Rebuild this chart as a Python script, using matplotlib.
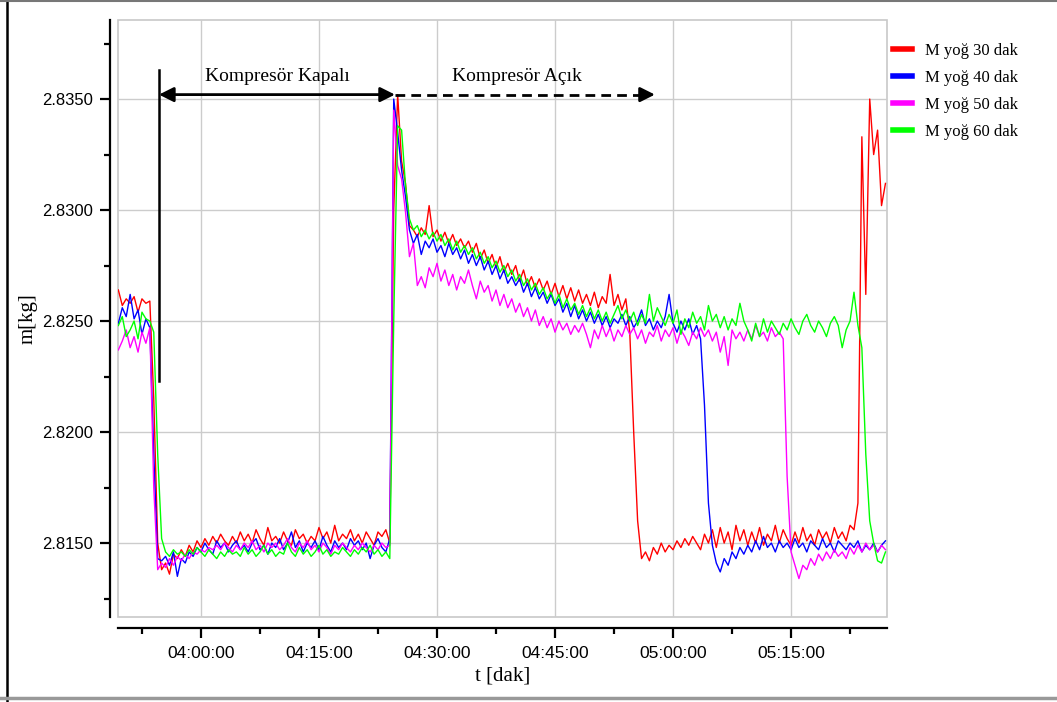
import numpy as np
import matplotlib
matplotlib.use('Agg')
import matplotlib.pyplot as plt
from matplotlib.ticker import MultipleLocator, FuncFormatter
from matplotlib.patches import Rectangle
from matplotlib.lines import Line2D

# time axis: minutes since midnight, one sample every 30 s (03:49:30 .. 05:27:00)
t = np.arange(229.5, 327.01, 0.5)

labels = ['M yoğ 30 dak', 'M yoğ 40 dak', 'M yoğ 50 dak', 'M yoğ 60 dak']
colors = ['#ff0000', '#0000ff', '#ff00ff', '#00ff00']

m_30 = [
    2.8264, 2.8257, 2.8260, 2.8258, 2.8261, 2.8254, 2.8260, 2.8258, 2.8259, 2.8215,
    2.8150, 2.8138, 2.8141, 2.8136, 2.8145, 2.8143, 2.8147, 2.8144, 2.8149, 2.8146,
    2.8151, 2.8148, 2.8152, 2.8149, 2.8153, 2.8150, 2.8154, 2.8151, 2.8149, 2.8153,
    2.8150, 2.8155, 2.8151, 2.8154, 2.8150, 2.8156, 2.8152, 2.8149, 2.8157, 2.8151,
    2.8153, 2.8150, 2.8155, 2.8151, 2.8149, 2.8156, 2.8152, 2.8154, 2.8150, 2.8153,
    2.8151, 2.8157, 2.8152, 2.8155, 2.8150, 2.8158, 2.8151, 2.8154, 2.8152, 2.8156,
    2.8151, 2.8154, 2.8150, 2.8155, 2.8152, 2.8149, 2.8155, 2.8153, 2.8156, 2.8150,
    2.8300, 2.8352, 2.8322, 2.8312, 2.8293, 2.8291, 2.8288, 2.8292, 2.8289, 2.8302,
    2.8288, 2.8291, 2.8286, 2.8290, 2.8285, 2.8289, 2.8284, 2.8287, 2.8283, 2.8286,
    2.8281, 2.8285, 2.8278, 2.8282, 2.8276, 2.8280, 2.8274, 2.8279, 2.8272, 2.8276,
    2.8271, 2.8275, 2.8268, 2.8273, 2.8266, 2.8270, 2.8265, 2.8269, 2.8264, 2.8268,
    2.8262, 2.8267, 2.8261, 2.8266, 2.8260, 2.8265, 2.8259, 2.8264, 2.8258, 2.8262,
    2.8257, 2.8263, 2.8256, 2.8261, 2.8258, 2.8271, 2.8257, 2.8262, 2.8255, 2.8260,
    2.8245, 2.8200, 2.8160, 2.8143, 2.8146, 2.8142, 2.8148, 2.8145, 2.8150, 2.8146,
    2.8149, 2.8147, 2.8151, 2.8148, 2.8152, 2.8149, 2.8153, 2.8150, 2.8147, 2.8154,
    2.8150, 2.8156, 2.8148, 2.8157, 2.8150, 2.8155, 2.8147, 2.8158, 2.8151, 2.8156,
    2.8149, 2.8155, 2.8150, 2.8157, 2.8149, 2.8154, 2.8151, 2.8158, 2.8150, 2.8156,
    2.8152, 2.8149, 2.8155, 2.8150, 2.8157, 2.8151, 2.8154, 2.8149, 2.8156, 2.8152,
    2.8155, 2.8150, 2.8157, 2.8152, 2.8155, 2.8151, 2.8158, 2.8156, 2.8168, 2.8333,
    2.8262, 2.8350, 2.8325, 2.8336, 2.8302, 2.8312,
]

m_40 = [
    2.8249, 2.8256, 2.8252, 2.8262, 2.8251, 2.8255, 2.8244, 2.8251, 2.8247, 2.8190,
    2.8143, 2.8142, 2.8144, 2.8140, 2.8146, 2.8135, 2.8143, 2.8141, 2.8146, 2.8144,
    2.8148, 2.8146, 2.8150, 2.8147, 2.8145, 2.8151, 2.8148, 2.8150, 2.8146, 2.8149,
    2.8151, 2.8147, 2.8149, 2.8146, 2.8150, 2.8152, 2.8147, 2.8149, 2.8145, 2.8150,
    2.8148, 2.8152, 2.8147, 2.8150, 2.8155, 2.8148, 2.8151, 2.8146, 2.8150, 2.8148,
    2.8151, 2.8147, 2.8153, 2.8149, 2.8146, 2.8151, 2.8148, 2.8150, 2.8147, 2.8152,
    2.8149, 2.8151, 2.8147, 2.8150, 2.8143, 2.8149, 2.8152, 2.8148, 2.8146, 2.8152,
    2.8350, 2.8335, 2.8318, 2.8306, 2.8291, 2.8285, 2.8289, 2.8280, 2.8286, 2.8283,
    2.8287, 2.8281, 2.8284, 2.8279, 2.8285, 2.8280, 2.8283, 2.8278, 2.8282, 2.8276,
    2.8280, 2.8275, 2.8279, 2.8273, 2.8277, 2.8271, 2.8275, 2.8269, 2.8273, 2.8267,
    2.8270, 2.8266, 2.8269, 2.8263, 2.8267, 2.8261, 2.8265, 2.8260, 2.8263, 2.8258,
    2.8262, 2.8257, 2.8260, 2.8254, 2.8258, 2.8252, 2.8257, 2.8251, 2.8255, 2.8250,
    2.8254, 2.8249, 2.8253, 2.8248, 2.8252, 2.8247, 2.8251, 2.8249, 2.8253, 2.8248,
    2.8252, 2.8247, 2.8250, 2.8255, 2.8248, 2.8251, 2.8246, 2.8250, 2.8247, 2.8252,
    2.8262, 2.8249, 2.8245, 2.8250, 2.8246, 2.8251, 2.8244, 2.8248, 2.8242, 2.8212,
    2.8168, 2.8149, 2.8141, 2.8137, 2.8143, 2.8140, 2.8146, 2.8143, 2.8148, 2.8145,
    2.8149, 2.8146, 2.8151, 2.8147, 2.8153, 2.8148, 2.8150, 2.8146, 2.8151, 2.8148,
    2.8150, 2.8147, 2.8152, 2.8148, 2.8150, 2.8146, 2.8151, 2.8149, 2.8147, 2.8152,
    2.8148, 2.8150, 2.8146, 2.8151, 2.8149, 2.8147, 2.8150, 2.8148, 2.8151, 2.8146,
    2.8149, 2.8147, 2.8150, 2.8146, 2.8149, 2.8151,
]

m_50 = [
    2.8237, 2.8241, 2.8246, 2.8238, 2.8243, 2.8236, 2.8245, 2.8240, 2.8247, 2.8175,
    2.8138, 2.8141, 2.8139, 2.8143, 2.8140, 2.8144, 2.8142, 2.8145, 2.8143, 2.8146,
    2.8145, 2.8147, 2.8146, 2.8148, 2.8147, 2.8149, 2.8147, 2.8150, 2.8148, 2.8146,
    2.8149, 2.8147, 2.8150, 2.8148, 2.8151, 2.8147, 2.8149, 2.8146, 2.8150, 2.8148,
    2.8150, 2.8147, 2.8149, 2.8152, 2.8148, 2.8146, 2.8150, 2.8148, 2.8151, 2.8147,
    2.8149, 2.8146, 2.8150, 2.8148, 2.8145, 2.8149, 2.8147, 2.8150, 2.8148, 2.8146,
    2.8149, 2.8147, 2.8150, 2.8148, 2.8146, 2.8149, 2.8147, 2.8150, 2.8148, 2.8149,
    2.8345, 2.8320, 2.8314, 2.8299, 2.8279, 2.8285, 2.8266, 2.8270, 2.8265, 2.8274,
    2.8270, 2.8276, 2.8268, 2.8273, 2.8266, 2.8271, 2.8264, 2.8270, 2.8267, 2.8273,
    2.8266, 2.8260, 2.8268, 2.8263, 2.8266, 2.8259, 2.8264, 2.8257, 2.8262, 2.8256,
    2.8260, 2.8254, 2.8258, 2.8252, 2.8256, 2.8250, 2.8255, 2.8248, 2.8252, 2.8247,
    2.8251, 2.8245, 2.8250, 2.8246, 2.8249, 2.8244, 2.8248, 2.8245, 2.8249, 2.8244,
    2.8238, 2.8246, 2.8242, 2.8248, 2.8243, 2.8247, 2.8241, 2.8246, 2.8243, 2.8248,
    2.8244, 2.8247, 2.8242, 2.8246, 2.8240, 2.8245, 2.8243, 2.8248, 2.8241, 2.8246,
    2.8243, 2.8247, 2.8240, 2.8246, 2.8243, 2.8239, 2.8245, 2.8242, 2.8247, 2.8243,
    2.8246, 2.8241, 2.8245, 2.8236, 2.8243, 2.8230, 2.8246, 2.8242, 2.8245, 2.8241,
    2.8246, 2.8242, 2.8248, 2.8243, 2.8245, 2.8241, 2.8247, 2.8243, 2.8245, 2.8242,
    2.8180, 2.8146, 2.8140, 2.8134, 2.8140, 2.8138, 2.8143, 2.8140, 2.8145, 2.8142,
    2.8146, 2.8143, 2.8147, 2.8144, 2.8146, 2.8143, 2.8148, 2.8145, 2.8149, 2.8146,
    2.8150, 2.8147, 2.8149, 2.8146, 2.8149, 2.8147,
]

m_60 = [
    2.8248, 2.8252, 2.8243, 2.8246, 2.8250, 2.8242, 2.8254, 2.8251, 2.8250, 2.8245,
    2.8190, 2.8152, 2.8146, 2.8144, 2.8147, 2.8145, 2.8146, 2.8144, 2.8147, 2.8145,
    2.8148, 2.8146, 2.8144, 2.8147, 2.8145, 2.8143, 2.8146, 2.8144, 2.8147, 2.8145,
    2.8146, 2.8144, 2.8148, 2.8145, 2.8147, 2.8144, 2.8146, 2.8149, 2.8145, 2.8147,
    2.8144, 2.8146, 2.8145, 2.8150, 2.8146, 2.8144, 2.8148, 2.8145, 2.8147, 2.8144,
    2.8146, 2.8149, 2.8145, 2.8147, 2.8144, 2.8146, 2.8145, 2.8148, 2.8146, 2.8144,
    2.8147, 2.8145, 2.8148, 2.8146, 2.8149, 2.8145, 2.8147, 2.8144, 2.8146, 2.8143,
    2.8250, 2.8338, 2.8336, 2.8311, 2.8296, 2.8291, 2.8293, 2.8288, 2.8291, 2.8287,
    2.8290, 2.8286, 2.8289, 2.8284, 2.8287, 2.8282, 2.8286, 2.8281, 2.8284, 2.8280,
    2.8283, 2.8278, 2.8281, 2.8276, 2.8279, 2.8274, 2.8277, 2.8272, 2.8275, 2.8270,
    2.8273, 2.8268, 2.8271, 2.8266, 2.8269, 2.8264, 2.8267, 2.8262, 2.8265, 2.8260,
    2.8263, 2.8258, 2.8262, 2.8256, 2.8260, 2.8255, 2.8258, 2.8253, 2.8257, 2.8252,
    2.8256, 2.8251, 2.8255, 2.8250, 2.8254, 2.8249, 2.8253, 2.8257, 2.8251, 2.8255,
    2.8250, 2.8254, 2.8248, 2.8253, 2.8249, 2.8262, 2.8250, 2.8256, 2.8252, 2.8248,
    2.8253, 2.8249, 2.8255, 2.8244, 2.8251, 2.8247, 2.8254, 2.8249, 2.8252, 2.8246,
    2.8257, 2.8250, 2.8253, 2.8247, 2.8252, 2.8246, 2.8251, 2.8248, 2.8258, 2.8250,
    2.8246, 2.8241, 2.8249, 2.8243, 2.8251, 2.8245, 2.8250, 2.8247, 2.8244, 2.8249,
    2.8246, 2.8251, 2.8247, 2.8244, 2.8250, 2.8253, 2.8248, 2.8245, 2.8250, 2.8247,
    2.8243, 2.8249, 2.8252, 2.8248, 2.8238, 2.8246, 2.8250, 2.8263, 2.8248, 2.8238,
    2.8190, 2.8160, 2.8150, 2.8142, 2.8141, 2.8146,
]

series = [m_30, m_40, m_50, m_60]

# annotation positions (minutes / kg)
t_off = 234.66
t_on = 264.66
t_end = 297.7
y_arrow = 2.8352

serif = 'Liberation Serif'
sans = 'Liberation Sans'


def hms(x, pos):
    s = int(round(x * 60))
    return '%02d:%02d:%02d' % (s // 3600, (s // 60) % 60, s % 60)


fig = plt.figure(figsize=(10.57, 7.02), dpi=100)
ax = fig.add_axes([0.1116, 0.1211, 0.7276, 0.8504])

for vals, c, lab in zip(series, colors, labels):
    ax.plot(t, vals, color=c, lw=1.0, label=lab)

ax.set_xlim(229.45, 327.2)
ax.set_ylim(2.81167, 2.83856)

ax.xaxis.set_major_locator(MultipleLocator(15))
ax.xaxis.set_minor_locator(MultipleLocator(7.5))
ax.xaxis.set_major_formatter(FuncFormatter(hms))
ax.yaxis.set_major_locator(MultipleLocator(0.005))
ax.yaxis.set_minor_locator(MultipleLocator(0.0025))
ax.yaxis.set_major_formatter(FuncFormatter(lambda v, p: '%.4f' % v))

ax.grid(True, which='major', color='#cccccc', lw=1.0)
ax.set_axisbelow(True)

for s in ['top', 'right']:
    ax.spines[s].set_visible(False)
ax.spines['left'].set_position(('outward', 6))
ax.spines['bottom'].set_position(('outward', 8))
ax.spines['left'].set_linewidth(1.6)
ax.spines['bottom'].set_linewidth(1.6)
ax.add_patch(Rectangle((0, 0), 1, 1, transform=ax.transAxes, fill=False,
                       edgecolor='#c8c8c8', lw=1.2, clip_on=False, zorder=0.5))

ax.tick_params(axis='both', which='major', length=7, width=1.6)
ax.tick_params(axis='both', which='minor', length=4, width=1.6)
ax.tick_params(axis='x', pad=6, labelsize=12.5)
ax.tick_params(axis='y', pad=5, labelsize=12)
for lbl in ax.get_xticklabels() + ax.get_yticklabels():
    lbl.set_fontfamily(sans)

ax.set_xlabel('t [dak]', fontfamily=serif, fontsize=15, labelpad=4)
ax.set_ylabel('m[kg]', fontfamily=serif, fontsize=15, labelpad=3)

# compressor off / on markers
ax.plot([t_off, t_off], [2.8223, 2.8363], color='k', lw=1.8, zorder=5)
ax.annotate('', xy=(t_off, y_arrow), xytext=(t_on, y_arrow),
            arrowprops=dict(arrowstyle='<|-|>', color='k', lw=2.0,
                            mutation_scale=22, shrinkA=0, shrinkB=0), zorder=5)
ax.plot([t_on, t_end - 1.0], [y_arrow, y_arrow], color='k', lw=2.0,
        dashes=(3.5, 2.2), zorder=5)
ax.annotate('', xy=(t_end, y_arrow), xytext=(t_end - 1.5, y_arrow),
            arrowprops=dict(arrowstyle='-|>', color='k', lw=2.0,
                            mutation_scale=22, shrinkA=0, shrinkB=0), zorder=5)
ax.text((t_off + t_on) / 2, 2.8360, 'Kompresör Kapalı', ha='center', va='center',
        fontfamily=serif, fontsize=14)
ax.text(t_on + 15.5, 2.8360, 'Kompresör Açık', ha='center', va='center',
        fontfamily=serif, fontsize=14)

handles = [Line2D([], [], color=c, lw=4) for c in colors]
fig.legend(handles, labels, loc='upper left', bbox_to_anchor=(0.831, 0.96),
           frameon=False, prop={'family': serif, 'size': 12},
           handlelength=1.1, handletextpad=0.8, labelspacing=0.65)

# window frame lines
fig.add_artist(Line2D([0.007, 0.007], [0.0, 1.0], color='k', lw=1.8, transform=fig.transFigure))
fig.add_artist(Line2D([0.0, 1.0], [0.999, 0.999], color='#777777', lw=1.5, transform=fig.transFigure))
fig.add_artist(Line2D([0.0, 1.0], [0.006, 0.006], color='#999999', lw=2.5, transform=fig.transFigure))

fig.savefig('out.png', dpi=100)
